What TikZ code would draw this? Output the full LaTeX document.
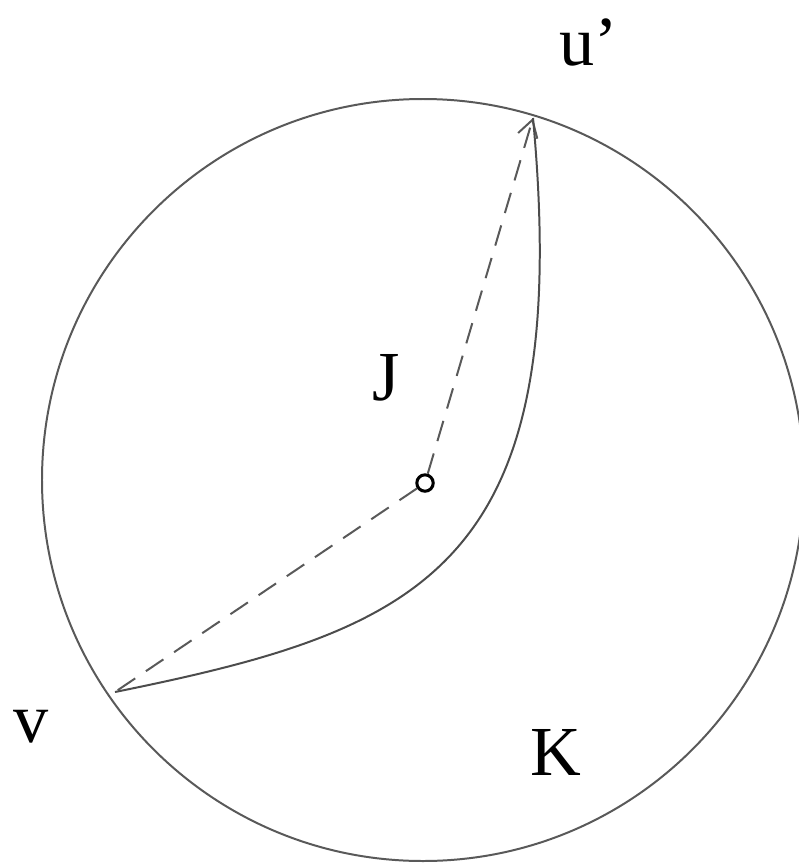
\documentclass[tikz,border=0pt]{standalone}
\usepackage{fontspec}
\setmainfont{Liberation Serif}
\usetikzlibrary{arrows.meta}

\begin{document}
\begin{tikzpicture}[
  x=0.03cm, y=-0.03cm,
  >={Straight Barb[length=5mm,width=6mm]},
  rim/.style={draw=black!65,line width=1.7pt},
  geod/.style={draw=black!70,line width=1.7pt},
  ray/.style={draw=black!65,line width=1.7pt,dash pattern=on 18pt off 11pt},
  lbl/.style={font=\fontsize{60}{62}\selectfont},
]
\useasboundingbox (0,0) rectangle (798,867);

% disc K and its centre
\draw[rim] (423,480) circle[radius=381];
\node[circle,draw,line width=2.6pt,minimum size=14pt,inner sep=0pt] (o) at (425,483) {};

% boundary points
\coordinate (v) at (115,692);
\coordinate (u) at (533,118);

% rays from the centre
\draw[ray] (o) -- (v);
\draw[ray,->] (o) -- (u);

% the curve from v to u'
\draw[geod] (v) .. controls (420,630) and (575,570) .. (u);

% labels
\node[lbl] (lu) at (589,42) {u’};
\node[lbl] (lj) at (386,378) {J};
\node[lbl] (lv) at (31,727) {v};
\node[lbl] (lk) at (556,752) {K};
\end{tikzpicture}
\end{document}
